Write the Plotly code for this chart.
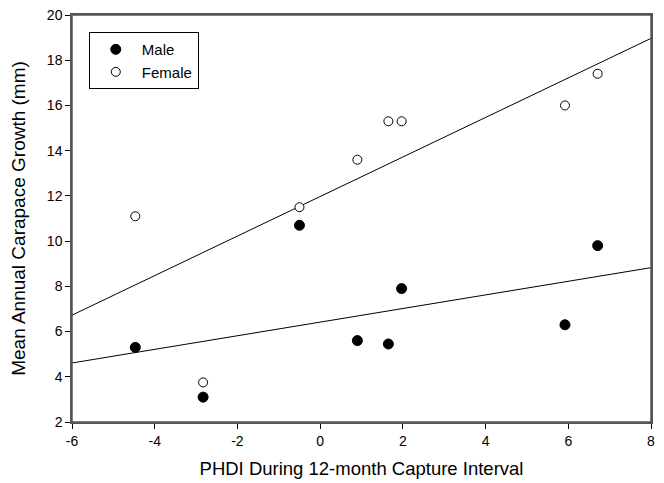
import numpy as np
import plotly.graph_objects as go

# PHDI values (x) and mean annual carapace growth (y)
phdi = [-4.47, -2.83, -0.5, 0.9, 1.65, 1.97, 5.92, 6.71]
male_growth = [5.3, 3.1, 10.7, 5.6, 5.45, 7.9, 6.3, 9.8]
female_growth = [11.1, 3.75, 11.5, 13.6, 15.3, 15.3, 16.0, 17.4]

x_range = [-6, 8]
y_range = [2, 20]
x_ticks = [-6, -4, -2, 0, 2, 4, 6, 8]
x_tick_labels = ["-6", "-4", "-2", "0", "2", "4", "6", "8"]
y_ticks = [2, 4, 6, 8, 10, 12, 14, 16, 18, 20]
y_tick_labels = ["2", "4", "6", "8", "10", "12", "14", "16", "18", "20"]

font_family = "Arial, Liberation Sans, sans-serif"

fig = go.Figure()

# Regression lines computed from the data
xs = np.array(x_range, dtype=float)
for ys in (female_growth, male_growth):
    slope, intercept = np.polyfit(phdi, ys, 1)
    fig.add_trace(go.Scatter(
        x=xs, y=slope * xs + intercept, mode="lines",
        line=dict(color="black", width=1), showlegend=False, hoverinfo="skip"))

fig.add_trace(go.Scatter(
    x=phdi, y=male_growth, mode="markers", name="Male",
    marker=dict(symbol="circle", size=10, color="black",
                line=dict(color="black", width=1))))
fig.add_trace(go.Scatter(
    x=phdi, y=female_growth, mode="markers", name="Female",
    marker=dict(symbol="circle", size=9, color="white",
                line=dict(color="black", width=1))))

axis_common = dict(
    showgrid=False, zeroline=False, showline=True, linecolor="#555555",
    linewidth=1.5, mirror=True, ticks="outside", ticklen=5, tickcolor="black",
    tickwidth=1, tickfont=dict(size=14, color="black", family=font_family),
    automargin=False, ticklabeloverflow="allow",
)

fig.update_layout(
    width=656, height=475,
    margin=dict(l=64, r=13, t=7, b=61),
    paper_bgcolor="white", plot_bgcolor="white",
    font=dict(family=font_family, color="black"),
    xaxis=dict(range=x_range, tickvals=x_ticks, ticktext=x_tick_labels,
               title=dict(text="PHDI During 12-month Capture Interval",
                          font=dict(size=18.5), standoff=15),
               **axis_common),
    yaxis=dict(range=y_range, tickvals=y_ticks, ticktext=y_tick_labels,
               title=dict(text="Mean Annual Carapace Growth (mm)",
                          font=dict(size=19), standoff=18),
               **axis_common),
    legend=dict(x=0.029, y=0.958, xanchor="left", yanchor="top",
                bordercolor="black", borderwidth=1, bgcolor="white",
                font=dict(size=15, color="black"), tracegroupgap=0,
                itemwidth=42),
    shapes=[dict(type="rect", xref="paper", yref="paper", x0=0, x1=1, y0=0, y1=1,
                 line=dict(color="#555555", width=1.5), layer="above")],
    showlegend=True,
)

fig.write_html("out.html")
